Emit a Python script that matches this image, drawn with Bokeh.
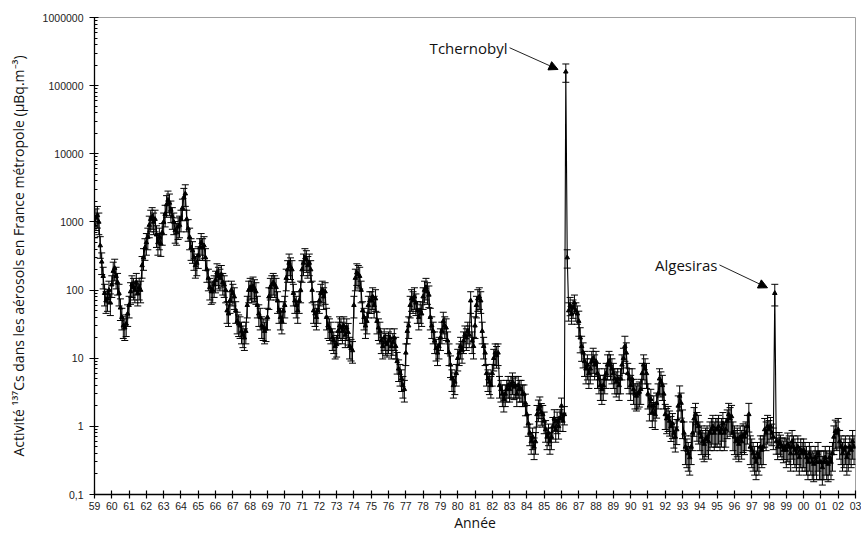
from bokeh.plotting import figure
from bokeh.models import (ColumnDataSource, Whisker, TeeHead, Arrow, NormalHead, Label,
                          FixedTicker, Range1d)
from bokeh.embed import file_html
from bokeh.resources import INLINE

# Monthly 137Cs activity in aerosols (µBq/m3), January to December of each year
act_1959_1969 = [
    900, 1150, 1250, 1000, 450, 260, 160, 90, 70, 75, 100, 65,          # 1959
    120, 190, 210, 160, 130, 90, 55, 40, 30, 28, 32, 45,                # 1960
    60, 95, 120, 110, 100, 130, 90, 110, 100, 230, 300, 420,            # 1961
    500, 600, 900, 1100, 1200, 1000, 1100, 650, 500, 600, 480, 700,     # 1962
    1000, 1300, 1800, 2100, 1900, 1500, 1200, 1000, 750, 700, 850, 900, # 1963
    1100, 1600, 2300, 2600, 1100, 800, 600, 420, 380, 300, 230, 250,    # 1964
    320, 420, 500, 420, 450, 300, 200, 150, 110, 95, 100, 120,          # 1965
    140, 180, 160, 150, 170, 130, 120, 100, 50, 45, 70, 100,            # 1966
    90, 80, 50, 35, 32, 30, 25, 22, 20, 25, 60, 100,                    # 1967
    110, 100, 115, 105, 95, 60, 45, 40, 30, 28, 25, 27,                 # 1968
    40, 80, 110, 120, 130, 120, 110, 70, 50, 40, 35, 50,                # 1969
]
act_1970_1979 = [
    60, 150, 200, 250, 220, 200, 90, 70, 60, 50, 70, 100,               # 1970
    200, 250, 300, 280, 230, 250, 200, 100, 50, 45, 40, 50,             # 1971
    70, 90, 100, 80, 95, 40, 30, 28, 25, 20, 18, 15,                    # 1972
    16, 25, 30, 28, 25, 30, 22, 28, 24, 15, 14, 13,                     # 1973
    60, 150, 180, 170, 160, 100, 50, 40, 30, 35, 60, 70,                # 1974
    70, 80, 60, 75, 35, 28, 25, 18, 15, 20, 17, 16,                     # 1975
    18, 20, 15, 17, 20, 15, 9, 7, 6, 5, 4, 3.5,                         # 1976
    12, 25, 30, 60, 75, 70, 80, 65, 50, 40, 50, 45,                     # 1977
    80, 100, 110, 95, 85, 40, 30, 25, 18, 14, 12, 15,                   # 1978
    20, 25, 35, 30, 28, 18, 12, 8, 5, 4, 4.5, 6,                        # 1979
]
act_1980_1989 = [
    10, 12, 15, 13, 18, 22, 20, 25, 22, 70, 18, 15,                     # 1980
    30, 60, 75, 80, 70, 25, 15, 12, 6, 5, 4.5, 4,                       # 1981
    6, 10, 12, 11, 12, 4, 3.5, 3, 2.5, 3, 3.5, 4,                       # 1982
    3.5, 4, 4.5, 3.8, 4, 3, 4, 3.5, 3.5, 3, 3, 2.2,                     # 1983
    1.5, 1.1, 0.8, 0.6, 0.7, 0.5, 0.6, 1.5, 1.8, 2.0, 1.6, 1.5,         # 1984
    1.2, 0.9, 0.7, 0.8, 0.6, 0.7, 1.0, 1.3, 0.9, 1.2, 1.0, 1.3,         # 1985
    2.0, 1.2, 1.5, 160000, 300, 50, 60, 45, 55, 65, 50, 45,             # 1986
    35, 20, 15, 12, 9, 7, 8, 6, 7, 9, 10, 8,                            # 1987
    9, 6, 5, 4, 3.5, 4, 5, 6, 8, 9, 8, 7,                               # 1988
    6, 5, 4.5, 5, 4, 5, 8, 10, 15, 12, 6, 5,                            # 1989
]
act_1990_1999 = [
    4, 5, 3.5, 3, 2.8, 3, 3.2, 3.5, 6, 8, 7, 6,                         # 1990
    3, 2, 2.5, 1.6, 2, 1.5, 2.2, 3, 5, 4.5, 4, 3,                       # 1991
    1.5, 1.3, 1.4, 1.2, 1.0, 1.1, 0.8, 0.7, 0.9, 2.0, 2.8, 2.2,         # 1992
    1.2, 0.8, 0.5, 0.45, 0.4, 0.35, 0.5, 0.8, 1.3, 1.5, 1.1, 1.0,       # 1993
    0.8, 0.7, 0.6, 0.55, 0.65, 0.7, 0.6, 0.8, 0.9, 1.0, 0.8, 0.9,       # 1994
    0.9, 1.0, 0.8, 0.9, 1.1, 0.8, 0.9, 1.2, 1.5, 1.3, 1.4, 0.8,         # 1995
    0.7, 0.6, 0.65, 0.55, 0.7, 0.6, 0.75, 0.7, 0.8, 1.0, 1.5, 0.5,      # 1996
    0.45, 0.4, 0.35, 0.3, 0.4, 0.35, 0.5, 0.45, 0.5, 0.9, 0.8, 1.0,     # 1997
    0.9, 1.0, 0.8, 0.7, 90, 0.6, 0.5, 0.6, 0.55, 0.5, 0.45, 0.5,        # 1998
    0.45, 0.55, 0.5, 0.4, 0.6, 0.5, 0.45, 0.4, 0.5, 0.35, 0.45, 0.4,    # 1999
]
act_2000_2002 = [
    0.45, 0.4, 0.35, 0.3, 0.4, 0.35, 0.3, 0.28, 0.35, 0.3, 0.4, 0.3,    # 2000
    0.3, 0.25, 0.3, 0.35, 0.3, 0.28, 0.35, 0.3, 0.4, 0.7, 0.85, 0.8,    # 2001
    0.9, 0.6, 0.5, 0.4, 0.45, 0.5, 0.35, 0.4, 0.5, 0.45, 0.6, 0.5,      # 2002
]

# Relative measurement uncertainty, one value per year 1959..2002
rel_err = [0.35] * 27 + [0.3] + [0.4] * 6 + [0.45] * 5 + [0.35] + [0.45] * 4

first_year = 1959
year_labels = ["59", "60", "61", "62", "63", "64", "65", "66", "67", "68", "69",
               "70", "71", "72", "73", "74", "75", "76", "77", "78", "79", "80",
               "81", "82", "83", "84", "85", "86", "87", "88", "89", "90", "91",
               "92", "93", "94", "95", "96", "97", "98", "99", "00", "01", "02", "03"]
decades = [0.1, 1, 10, 100, 1000, 10000, 100000, 1000000]
decade_labels = ["0,1", "1", "10", "100", "1000", "10000", "100000", "1000000"]

activity = act_1959_1969 + act_1970_1979 + act_1980_1989 + act_1990_1999 + act_2000_2002
t = [first_year + i / 12 for i in range(len(activity))]
err = [a * rel_err[i // 12] for i, a in enumerate(activity)]
src = ColumnDataSource(dict(
    t=t, a=activity,
    lo=[a - e for a, e in zip(activity, err)],
    hi=[a + e for a, e in zip(activity, err)],
))

last_year = first_year + len(year_labels) - 1
p = figure(width=861, height=535,
           x_range=Range1d(first_year, last_year),
           y_range=Range1d(decades[0], decades[-1]),
           y_axis_type="log", output_backend="svg", toolbar_location=None,
           min_border_left=94, min_border_right=6, min_border_top=17, min_border_bottom=41)
p.grid.visible = False
p.outline_line_color = "#a0a0a0"
p.outline_line_width = 1
p.background_fill_color = "white"
p.border_fill_color = "white"

# error bars, connecting line and markers
eb = Whisker(base="t", upper="hi", lower="lo", source=src,
             line_color="black", line_width=1,
             upper_head=TeeHead(size=7, line_color="black", line_width=1),
             lower_head=TeeHead(size=7, line_color="black", line_width=1))
p.add_layout(eb)
p.line("t", "a", source=src, line_color="black", line_width=1.1)
p.scatter("t", "a", source=src, marker="triangle", size=4.5,
          fill_color="black", line_color="black")

# x axis: one tick per year
tick_font = "Liberation Sans"
p.xaxis.ticker = FixedTicker(ticks=[first_year + i for i in range(len(year_labels))])
p.xaxis.major_label_overrides = {first_year + i: lab for i, lab in enumerate(year_labels)}
p.xaxis.minor_tick_line_color = None
p.xaxis.major_tick_in = 4
p.xaxis.major_tick_out = 4
p.xaxis.major_label_standoff = 3
p.xaxis.axis_label = "Année"
p.xaxis.axis_label_standoff = 0

# y axis: decades with log minor ticks, decimal comma labels
minor = [d * k for d in decades[:-1] for k in range(2, 10)]
p.yaxis.ticker = FixedTicker(ticks=decades, minor_ticks=minor)
p.yaxis.major_label_overrides = {d: lab for d, lab in zip(decades, decade_labels)}
p.yaxis.major_tick_in = 4
p.yaxis.major_tick_out = 5
p.yaxis.minor_tick_in = 3
p.yaxis.minor_tick_out = 0
p.yaxis.major_label_standoff = 6
p.yaxis.axis_label = "Activité ¹³⁷Cs dans les aérosols en France métropole (µBq.m⁻³)"
p.yaxis.axis_label_standoff = 12

for ax in (p.xaxis[0], p.yaxis[0]):
    ax.axis_line_color = "black"
    ax.axis_line_width = 1.3
    ax.major_tick_line_color = "black"
    ax.major_tick_line_width = 1.2
    ax.minor_tick_line_color = "black" if ax is p.yaxis[0] else None
    ax.major_label_text_font = tick_font
    ax.major_label_text_font_size = "10.5px"
    ax.major_label_text_color = "#222222"
    ax.axis_label_text_font = "Open Sans"
    ax.axis_label_text_font_size = "14px"
    ax.axis_label_text_font_style = "normal"
    ax.axis_label_text_color = "#111111"

# event annotations
def annotate(idx, text, tail_dx, tail_fy, tip_dx, tip_fy):
    x0, y0 = t[idx], activity[idx]
    tx, ty = x0 + tail_dx, y0 * tail_fy
    p.add_layout(Arrow(x_start=tx, y_start=ty, x_end=x0 + tip_dx, y_end=y0 * tip_fy,
                       line_color="#222222", line_width=1,
                       end=NormalHead(size=9, fill_color="black", line_color="black")))
    p.add_layout(Label(x=tx - 0.12, y=ty, text=text, text_align="right",
                       text_baseline="alphabetic", text_font="Open Sans",
                       text_font_size="15px", text_color="#111111"))

i_tch = activity.index(max(activity))
i_alg = (1998 - first_year) * 12 + max(range(12), key=lambda m: activity[(1998 - first_year) * 12 + m])
annotate(i_tch, "Tchernobyl", -3.25, 2.25, -0.45, 1.08)
annotate(i_alg, "Algesiras", -3.2, 2.6, -0.42, 1.2)

open("out.html", "w").write(file_html(p, INLINE))
